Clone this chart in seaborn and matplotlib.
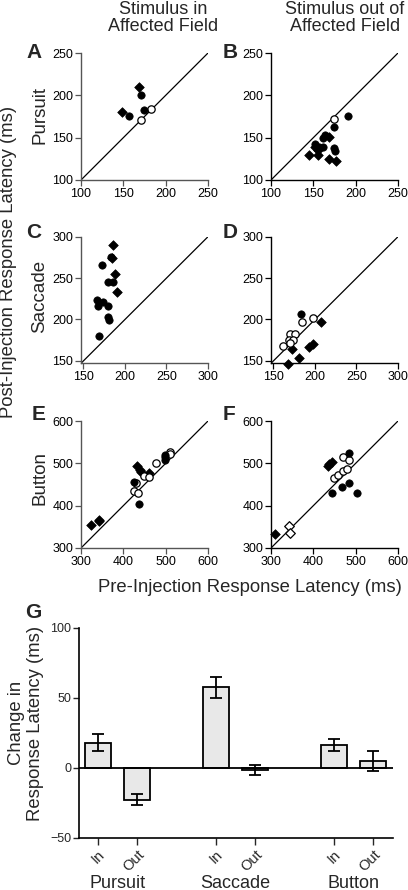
import numpy as np
import pandas as pd
import matplotlib
matplotlib.use("Agg")
import matplotlib.pyplot as plt
import seaborn as sns

sns.set_style("ticks")
plt.rcParams['font.family'] = ['Liberation Sans', 'DejaVu Sans']

# ---------------- data ----------------
a_pre = [148.7, 157, 168.7, 170.7, 174.2, 170.7, 182.4]
a_post = [180.7, 175.2, 210, 200.7, 182.6, 170.9, 184.2]
a_shape = ['D', 'o', 'D', 'o', 'o', 'o', 'o']
a_fill = [1, 1, 1, 1, 1, 0, 0]

b_pre = [174.8, 190.5, 174.8, 164.1, 168.0, 161, 152.3, 151.5, 157, 161, 155, 174.8, 175, 145.2, 155, 168, 176.8]
b_post = [172.2, 175.7, 162.4, 153.4, 150.5, 149.5, 142.4, 138.4, 139.5, 138.4, 135.7, 137.7, 133.7, 129.8, 129, 124.5, 122.7]
b_shape = ['o', 'o', 'o', 'o', 'D', 'o', 'o', 'D', 'o', 'o', 'D', 'o', 'o', 'D', 'D', 'D', 'D']
b_fill = [0] + [1] * 16

c_pre = [185.2, 172, 183.2, 184.8, 188.4, 179.3, 186, 190.8, 166.8, 174, 179.3, 168, 179.3, 181.2, 169.2]
c_post = [290, 266, 276, 274, 254.8, 244.7, 244.7, 232.7, 223.9, 221.5, 215.9, 215.9, 203.1, 199, 179.8]
c_shape = ['D', 'o', 'o', 'D', 'D', 'o', 'o', 'D', 'o', 'o', 'o', 'o', 'o', 'o', 'o']
c_fill = [1] * 15

d_pre = [183.2, 184, 198, 207.2, 170, 176.4, 169.2, 174, 161.3, 170, 172.4, 193.2, 198, 181.2, 167.3]
d_post = [206.9, 196.4, 201.6, 196.4, 182.8, 182.8, 175.5, 174.7, 167.5, 171.4, 163.9, 166.6, 169.9, 153.9, 145.8]
d_shape = ['o', 'o', 'o', 'D', 'o', 'o', 'o', 'o', 'o', 'o', 'D', 'D', 'D', 'D', 'D']
d_fill = [1, 0, 0, 1, 0, 0, 0, 0, 0, 0, 1, 1, 1, 1, 1]

e_pre = [322.7, 342.4, 342.4, 424.7, 431, 425.5, 435.7, 437.3, 433.3, 438.8, 442.7, 449.8, 460.8, 460.8, 476.5, 497.6, 498, 499, 509.4, 510]
e_post = [354, 362.6, 366.6, 456.6, 453.5, 435.5, 430.8, 404, 493.4, 484, 479.3, 470.7, 476.2, 467.6, 500.5, 520, 513.8, 509, 527.1, 523]
e_shape = ['D', 'D', 'D', 'o', 'o', 'o', 'o', 'o', 'D', 'D', 'D', 'o', 'D', 'o', 'o', 'o', 'o', 'o', 'o', 'o']
e_fill = [1, 1, 1, 1, 0, 0, 0, 1, 1, 1, 1, 0, 1, 0, 0, 1, 1, 1, 0, 0]

f_pre = [310.2, 342.4, 343.9, 438, 443.5, 435.7, 449.8, 459.2, 469.4, 480.4, 469.4, 483.5, 485.1, 485.1, 467.1, 445.1, 503.9]
f_post = [333.7, 350.9, 335.2, 498, 502, 494.2, 464.5, 471.5, 481.7, 485.6, 515.3, 509, 525.5, 452.7, 444.9, 430.8, 430.8]
f_shape = ['D', 'D', 'D', 'D', 'D', 'D', 'o', 'o', 'o', 'o', 'o', 'o', 'o', 'o', 'o', 'o', 'o']
f_fill = [1, 0, 0, 1, 1, 1, 0, 0, 0, 0, 0, 0, 1, 1, 1, 1, 1]

g_groups = ['Pursuit', 'Saccade', 'Button']
g_conds = ['In', 'Out']
g_mean = [18, -22.5, 57.6, -1.7, 16.4, 5.2]
g_err = [6, 3.7, 7.6, 3.6, 4.5, 7]

col_titles = ['Stimulus in\nAffected Field', 'Stimulus out of\nAffected Field']
row_labels = ['Pursuit', 'Saccade', 'Button']
panel_letters = ['A', 'B', 'C', 'D', 'E', 'F']

# ---------------- figure ----------------
W, H = 408, 890
fig = plt.figure(figsize=(W / 100, H / 100), dpi=100)


def ax_px(left, top, right, bottom):
    return fig.add_axes([left / W, 1 - bottom / H, (right - left) / W, (bottom - top) / H])


TICK_FS = 9
LAB_FS = 13.3
panels = [
    (a_pre, a_post, a_shape, a_fill, (100, 250), [100, 150, 200, 250]),
    (b_pre, b_post, b_shape, b_fill, (100, 250), [100, 150, 200, 250]),
    (c_pre, c_post, c_shape, c_fill, (147, 300), [150, 200, 250, 300]),
    (d_pre, d_post, d_shape, d_fill, (147, 300), [150, 200, 250, 300]),
    (e_pre, e_post, e_shape, e_fill, (300, 600), [300, 400, 500, 600]),
    (f_pre, f_post, f_shape, f_fill, (300, 600), [300, 400, 500, 600]),
]
rows_px = [(53, 180), (236.7, 363.3), (421, 548)]
cols_px = [(81, 208), (271, 398)]

for i, (pre, post, shp, fil, lim, ticks) in enumerate(panels):
    r, c = divmod(i, 2)
    top, bot = rows_px[r]
    left, right = cols_px[c]
    ax = ax_px(left, top, right, bot)
    df = pd.DataFrame({'pre': pre, 'post': post, 'shape': shp, 'fill': fil})
    ax.plot(lim, lim, color='black', lw=0.9, zorder=1)
    for (s, f), sub in df.groupby(['shape', 'fill']):
        sns.scatterplot(data=sub, x='pre', y='post', ax=ax, marker=s,
                        s=(24 if s == 'D' else 28),
                        facecolor=('black' if f else 'white'),
                        edgecolor='black', linewidth=(0.5 if f else 0.9),
                        zorder=3, clip_on=False)
    ax.set_xlim(lim)
    ax.set_ylim(lim)
    ax.set_xticks(ticks)
    ax.set_yticks(ticks)
    ax.set_xlabel('')
    ax.set_ylabel('')
    spine_col = '#555555' if c == 0 else 'black'
    for sp in ['top', 'right']:
        ax.spines[sp].set_visible(False)
    for sp in ['left', 'bottom']:
        ax.spines[sp].set_linewidth(1.0)
        ax.spines[sp].set_color(spine_col)
    ax.tick_params(length=4, width=0.9, pad=1.5, labelsize=TICK_FS, colors=spine_col, labelcolor='black')
    ax.set_facecolor('none')

# column titles
fig.text(163 / W, 1 - 18 / H, col_titles[0], ha='center', va='center', fontsize=13, linespacing=1.0)
fig.text(345 / W, 1 - 18 / H, col_titles[1], ha='center', va='center', fontsize=13, linespacing=1.0)

# panel letters
letter_pos = [(26, 52), (223, 52), (26, 232), (223, 232), (32, 415), (223, 415)]
for L, (x, y) in zip(panel_letters, letter_pos):
    fig.text(x / W, 1 - y / H, L, ha='left', va='center', fontsize=15, fontweight='bold')

# row labels
for lab, y in zip(row_labels, [115, 296, 478]):
    fig.text(40 / W, 1 - y / H, lab, ha='center', va='center', rotation=90, fontsize=13.5)

fig.text(9 / W, 1 - 262 / H, 'Post-Injection Response Latency (ms)', ha='center', va='center',
         rotation=90, fontsize=LAB_FS)
fig.text(250 / W, 1 - 588 / H, 'Pre-Injection Response Latency (ms)', ha='center', va='center',
         fontsize=LAB_FS)

# ---------------- panel G ----------------
axg = ax_px(79, 628, 393, 838)
gdf = pd.DataFrame({
    'group': np.repeat(g_groups, len(g_conds)),
    'cond': g_conds * len(g_groups),
    'mean': g_mean,
    'err': g_err,
})
gdf['pos'] = [gi * 3 + ci for gi in range(len(g_groups)) for ci in range(len(g_conds))]
sns.barplot(data=gdf, x='pos', y='mean', native_scale=True, width=0.66, ax=axg,
            color='#e8e8e8', edgecolor='black', linewidth=1.3, errorbar=None, saturation=1, zorder=2)
axg.errorbar(gdf['pos'], gdf['mean'], yerr=gdf['err'], fmt='none', ecolor='black',
             elinewidth=1.3, capsize=4, capthick=1.3, zorder=4)
axg.axhline(0, color='black', lw=1.3, zorder=3)
axg.set_xlim(-0.48, 7.5)
axg.set_ylim(-50, 100)
axg.set_yticks([-50, 0, 50, 100])
axg.set_xticks(gdf['pos'])
axg.set_xticklabels(gdf['cond'], rotation=45, ha='right', va='top', rotation_mode='anchor')
axg.set_xlabel('')
axg.set_ylabel('')
for sp in ['top', 'right']:
    axg.spines[sp].set_visible(False)
for sp in ['left', 'bottom']:
    axg.spines[sp].set_linewidth(1.2)
    axg.spines[sp].set_color('black')
axg.tick_params(axis='y', length=4, width=1.0, pad=1.5, labelsize=TICK_FS)
axg.tick_params(axis='x', length=5, width=1.0, pad=2, labelsize=10.5)
axg.set_facecolor('none')
for gi, g in enumerate(g_groups):
    axg.text(gi * 3 + 0.5, -0.215, g, transform=axg.get_xaxis_transform(), ha='center', va='center',
             fontsize=13)
fig.text(26 / W, 1 - 723 / H, 'Change in\nResponse Latency (ms)', ha='center', va='center',
         rotation=90, fontsize=LAB_FS, linespacing=1.15)
fig.text(25 / W, 1 - 612 / H, 'G', ha='left', va='center', fontsize=15, fontweight='bold')

fig.savefig('out.png', dpi=100)
